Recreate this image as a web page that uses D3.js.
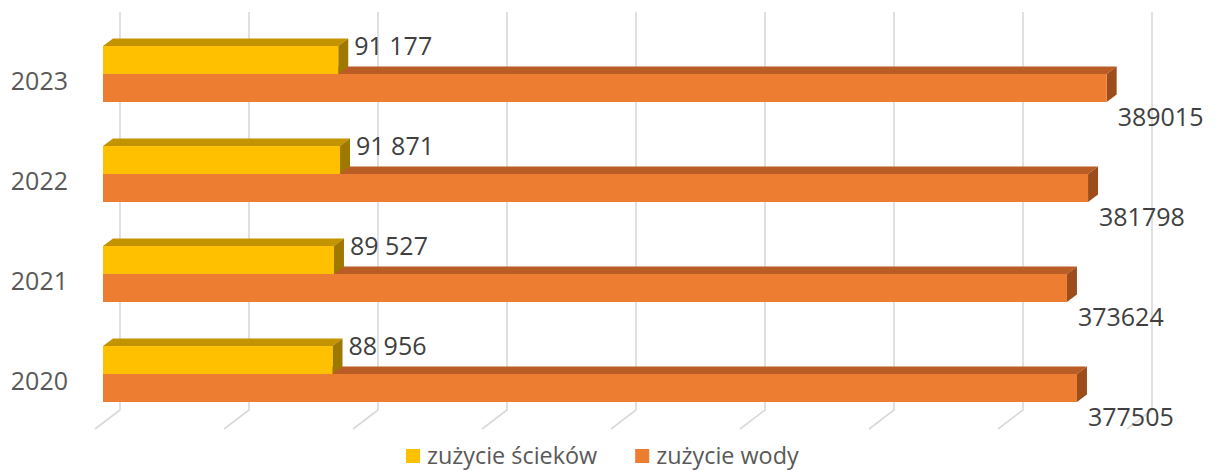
<!DOCTYPE html>
<html>
<head>
<meta charset="utf-8">
<script src="https://cdn.jsdelivr.net/npm/d3@7"></script>
<style>
  html, body { margin: 0; padding: 0; background: #ffffff; }
  svg { display: block; font-family: "Open Sans", "Noto Sans", sans-serif; }
</style>
</head>
<body>
<svg id="chart" width="1217" height="470"></svg>
<script>
// Annual consumption figures
const years = ["2023", "2022", "2021", "2020"];
const sewage = [91177, 91871, 89527, 88956];       // zużycie ścieków
const water = [389015, 381798, 373624, 377505];    // zużycie wody
const sewageLabels = ["91 177", "91 871", "89 527", "88 956"];
const waterLabels = ["389015", "381798", "373624", "377505"];
const seriesNames = ["zużycie ścieków", "zużycie wody"];
const xTicks = [0, 50000, 100000, 150000, 200000, 250000, 300000, 350000, 400000];

const svg = d3.select("#chart");

// Oblique projection: depth 0 = front edge of floor, 1 = back wall
const DEPTH_DX = 25, DEPTH_DY = 19;
const barDepthFront = 0.32, barDepthBack = 0.72;
const floorFrontX = 95;     // x of value 0 at depth 0
const floorFrontY = 429;
const wallTopY = 12;

const x = d3.scaleLinear().domain([0, 400000]).range([0, 1032]);
const px = (v, d) => floorFrontX + x(v) + d * DEPTH_DX;

// Category bands measured on the bars' front plane
const yBand = d3.scaleBand().domain(years).range([24, 424])
  .paddingInner(0.44).paddingOuter(0.22);
const ySeries = d3.scaleBand().domain(seriesNames).range([0, yBand.bandwidth()]);

const colors = {
  "zużycie ścieków": { front: "#FFC000", top: "#C39300", side: "#9F7800" },
  "zużycie wody": { front: "#ED7D31", top: "#B95C25", side: "#9D4D1C" }
};

// Gridlines: vertical on back wall, slanted across floor
const grid = svg.append("g").attr("stroke", "#D9D9D9").attr("stroke-width", 1.6).attr("fill", "none");
const backY = floorFrontY - DEPTH_DY;
xTicks.forEach(t => {
  grid.append("path").attr("d", d3.line()([
    [px(t, 1), wallTopY],
    [px(t, 1), backY],
    [px(t, 0), floorFrontY]
  ]));
});

const bdx = (barDepthBack - barDepthFront) * DEPTH_DX;
const bdy = (barDepthBack - barDepthFront) * DEPTH_DY;

function drawBar(g, value, top, bottom, c) {
  const x0 = px(0, barDepthFront);
  const x1 = px(value, barDepthFront);
  // top face
  g.append("path").attr("fill", c.top).attr("d", d3.line()([
    [x0, top], [x0 + bdx, top - bdy], [x1 + bdx, top - bdy], [x1, top]
  ]) + "Z");
  // end face
  g.append("path").attr("fill", c.side).attr("d", d3.line()([
    [x1, top], [x1 + bdx, top - bdy], [x1 + bdx, bottom - bdy], [x1, bottom]
  ]) + "Z");
  // front face
  g.append("rect").attr("fill", c.front)
    .attr("x", x0).attr("y", top)
    .attr("width", x1 - x0).attr("height", bottom - top);
}

const bars = svg.append("g");
years.forEach((yr, i) => {
  const g = bars.append("g");
  const bandTop = yBand(yr);
  // water bar sits lower, draw first so the sewage bar overlaps its top face
  const wTop = bandTop + ySeries("zużycie wody");
  drawBar(g, water[i], wTop, wTop + ySeries.bandwidth(), colors["zużycie wody"]);
  const sTop = bandTop + ySeries("zużycie ścieków");
  drawBar(g, sewage[i], sTop, sTop + ySeries.bandwidth(), colors["zużycie ścieków"]);
});

// Value labels
const labels = svg.append("g").attr("fill", "#404040").attr("font-size", 25);
years.forEach((yr, i) => {
  const bandTop = yBand(yr);
  const sTop = bandTop + ySeries("zużycie ścieków");
  labels.append("text")
    .attr("x", px(sewage[i], barDepthFront) + 16)
    .attr("y", sTop + 9)
    .text(sewageLabels[i]);
  const wBottom = bandTop + ySeries("zużycie wody") + ySeries.bandwidth();
  labels.append("text")
    .attr("x", px(water[i], barDepthFront) + 11)
    .attr("y", wBottom + 24)
    .text(waterLabels[i]);
});

// Category axis labels
const yAxisLabels = svg.append("g").attr("fill", "#595959").attr("font-size", 25).attr("text-anchor", "end");
years.forEach(yr => {
  yAxisLabels.append("text")
    .attr("x", 68)
    .attr("y", yBand(yr) + yBand.bandwidth() / 2 + 16)
    .text(yr);
});

// Legend
const legend = svg.append("g").attr("font-size", 23.4).attr("fill", "#595959");
let lx = 406;
seriesNames.forEach(name => {
  legend.append("rect").attr("x", lx).attr("y", 449).attr("width", 14).attr("height", 14)
    .attr("fill", colors[name].front);
  const t = legend.append("text").attr("x", lx + 21).attr("y", 464).text(name);
  lx = lx + 21 + t.node().getComputedTextLength() + 38;
});
</script>
</body>
</html>
